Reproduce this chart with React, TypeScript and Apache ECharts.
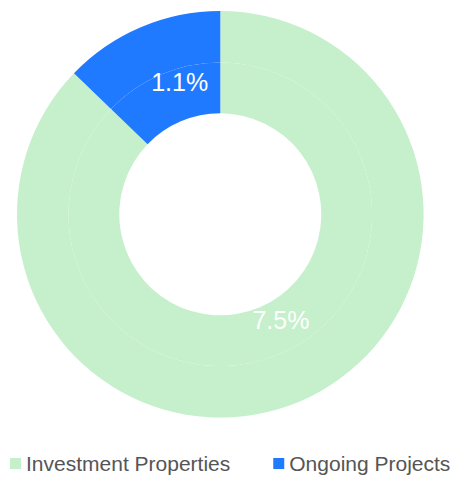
import React, { useEffect, useRef } from "react";
import * as echarts from "echarts";

const categories = ["Investment Properties", "Ongoing Projects"];
const values = [7.5, 1.1];
const colors = ["#C5F0CB", "#1F7AFF"];

export default function App() {
  const ref = useRef<HTMLDivElement>(null);
  useEffect(() => {
    if (!ref.current) return;
    const chart = echarts.init(ref.current, undefined, { renderer: "svg" });
    const data = categories.map((name, i) => ({ name, value: values[i] }));
    const center = [220.3, 214.3];
    chart.setOption({
      animation: false,
      color: colors,
      legend: {
        data: categories,
        left: 10,
        top: 453,
        padding: 0,
        width: 600,
        icon: "rect",
        itemWidth: 11,
        itemHeight: 11,
        itemGap: 43,
        textStyle: { fontFamily: "Liberation Sans, Arial, sans-serif", fontSize: 21, color: "#555" },
      },
      series: [
        {
          type: "pie",
          center,
          radius: [101, 151.8],
          startAngle: 90,
          clockwise: true,
          data,
          silent: true,
          label: {
            show: true,
            position: "inside",
            formatter: "{c}%",
            color: "#fff",
            fontSize: 25,
            fontFamily: "Liberation Sans, Arial, sans-serif",
            offset: [10, -13],
          },
          labelLine: { show: false },
          itemStyle: { borderWidth: 0 },
        },
        {
          type: "pie",
          center,
          radius: [151.8, 203.3],
          startAngle: 90,
          clockwise: true,
          data,
          silent: true,
          label: { show: false },
          labelLine: { show: false },
          itemStyle: { borderWidth: 0 },
        },
      ],
    });
    return () => chart.dispose();
  }, []);
  return <div ref={ref} style={{ position: "absolute", left: 0, top: 0, width: 455, height: 477 }} />;
}
